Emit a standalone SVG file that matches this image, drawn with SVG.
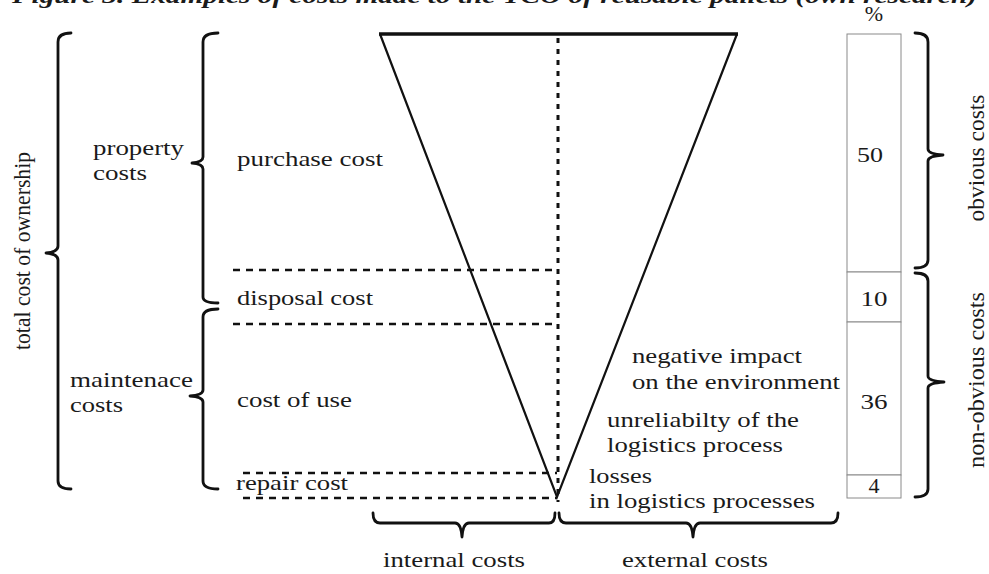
<svg xmlns="http://www.w3.org/2000/svg" width="989" height="574" viewBox="0 0 989 574">
<style>
.t{font-family:"Liberation Serif","Times New Roman",serif;font-size:22px;fill:#1a1a1a}
.r{font-size:23px}
.br{fill:none;stroke:#111;stroke-width:2.8;stroke-linecap:round;stroke-linejoin:round}
.dash{fill:none;stroke:#111;stroke-width:2.6;stroke-dasharray:7 6}
.dot{fill:none;stroke:#111;stroke-width:3;stroke-dasharray:5 6}
.cell{fill:#fff;stroke:#8a8a8a;stroke-width:1}
</style>
<rect width="989" height="574" fill="#fff"/>
<text class="t" x="12" y="3" font-style="italic" font-weight="bold" textLength="965" lengthAdjust="spacingAndGlyphs">Figure 3. Examples of costs made to the TCO of reusable pallets (own research)</text>

<g id="funnel">
  <path d="M380,34 L557,497 L737,34" fill="none" stroke="#111" stroke-width="2.2" stroke-linejoin="miter"/>
  <line x1="379" y1="34" x2="738" y2="34" stroke="#111" stroke-width="3.5"/>
</g>

<g id="connectors">
  <line class="dot" x1="558" y1="38" x2="558" y2="502"/>
  <line class="dash" x1="233" y1="270" x2="557" y2="270"/>
  <line class="dash" x1="233" y1="324" x2="557" y2="324"/>
  <line class="dash" x1="243" y1="473" x2="557" y2="473"/>
  <line class="dash" x1="243" y1="498" x2="557" y2="498"/>
</g>

<g id="brace-total">
  <path class="br" d="M71,33 Q58,33 58,42 L58,246 Q58,252 46,253 Q58,254 58,260 L58,481 Q58,489 71,489"/>
  <text class="t r" transform="translate(30,251) rotate(-90)" text-anchor="middle" textLength="198" lengthAdjust="spacingAndGlyphs">total cost of ownership</text>
</g>

<g id="brace-property">
  <path class="br" d="M218,33 Q203,33 203,42 L203,157 Q203,162 192,163 Q203,164 203,169 L203,297 Q203,303 218,303"/>
  <text class="t" x="93" y="155" textLength="91" lengthAdjust="spacingAndGlyphs">property</text>
  <text class="t" x="93" y="180" textLength="54" lengthAdjust="spacingAndGlyphs">costs</text>
</g>

<g id="brace-maintenance">
  <path class="br" d="M218,309 Q203,309 203,317 L203,390 Q203,395 190,396 Q203,397 203,402 L203,481 Q203,489 218,489"/>
  <text class="t" x="70" y="387" textLength="123" lengthAdjust="spacingAndGlyphs">maintenace</text>
  <text class="t" x="70" y="412" textLength="53" lengthAdjust="spacingAndGlyphs">costs</text>
</g>

<g id="purchase-cost"><text class="t" x="237" y="166" textLength="146" lengthAdjust="spacingAndGlyphs">purchase cost</text></g>
<g id="disposal-cost"><text class="t" x="237" y="305" textLength="136" lengthAdjust="spacingAndGlyphs">disposal cost</text></g>
<g id="cost-of-use"><text class="t" x="237" y="407" textLength="115" lengthAdjust="spacingAndGlyphs">cost of use</text></g>
<g id="repair-cost"><text class="t" x="236" y="490" textLength="112" lengthAdjust="spacingAndGlyphs">repair cost</text></g>

<g id="negative-impact">
  <text class="t" x="632" y="363" textLength="170" lengthAdjust="spacingAndGlyphs">negative impact</text>
  <text class="t" x="632" y="389" textLength="208" lengthAdjust="spacingAndGlyphs">on the environment</text>
</g>
<g id="unreliability">
  <text class="t" x="607" y="427" textLength="192" lengthAdjust="spacingAndGlyphs">unreliabilty of the</text>
  <text class="t" x="607" y="452" textLength="176" lengthAdjust="spacingAndGlyphs">logistics process</text>
</g>
<g id="losses">
  <text class="t" x="589" y="483" textLength="63" lengthAdjust="spacingAndGlyphs">losses</text>
  <text class="t" x="589" y="508" textLength="226" lengthAdjust="spacingAndGlyphs">in logistics processes</text>
</g>

<g id="brace-internal">
  <path class="br" d="M373,513 Q373,523 380,523 L455,523 Q461,523 462,537 Q463,523 469,523 L549,523 Q555,523 555,513"/>
  <text class="t" x="383" y="567" textLength="142" lengthAdjust="spacingAndGlyphs">internal costs</text>
</g>
<g id="brace-external">
  <path class="br" d="M559,513 Q559,523 566,523 L686,523 Q692,523 693,537 Q694,523 700,523 L831,523 Q838,523 838,513"/>
  <text class="t" x="622" y="567" textLength="146" lengthAdjust="spacingAndGlyphs">external costs</text>
</g>

<g id="percent-bar">
  <text class="t" x="874" y="21" text-anchor="middle">%</text>
  <rect class="cell" x="847" y="34" width="54" height="238"/>
  <rect class="cell" x="847" y="272" width="54" height="50"/>
  <rect class="cell" x="847" y="322" width="54" height="153"/>
  <rect class="cell" x="847" y="475" width="54" height="23"/>
  <text class="t" x="870" y="162" text-anchor="middle" textLength="26" lengthAdjust="spacingAndGlyphs">50</text>
  <text class="t" x="874" y="306" text-anchor="middle" textLength="27" lengthAdjust="spacingAndGlyphs">10</text>
  <text class="t" x="874" y="409" text-anchor="middle" textLength="27" lengthAdjust="spacingAndGlyphs">36</text>
  <text class="t" x="874" y="493" text-anchor="middle">4</text>
</g>

<g id="brace-obvious">
  <path class="br" d="M915,33 Q928,33 928,42 L928,149 Q928,154 943,155 Q928,156 928,161 L928,260 Q928,268 915,268"/>
  <text class="t r" transform="translate(984,158) rotate(-90)" text-anchor="middle" textLength="127" lengthAdjust="spacingAndGlyphs">obvious costs</text>
</g>
<g id="brace-nonobvious">
  <path class="br" d="M915,273 Q928,273 928,281 L928,376 Q928,381 944,382 Q928,383 928,388 L928,489 Q928,497 915,497"/>
  <text class="t r" transform="translate(984,380) rotate(-90)" text-anchor="middle" textLength="176" lengthAdjust="spacingAndGlyphs">non-obvious costs</text>
</g>
</svg>
